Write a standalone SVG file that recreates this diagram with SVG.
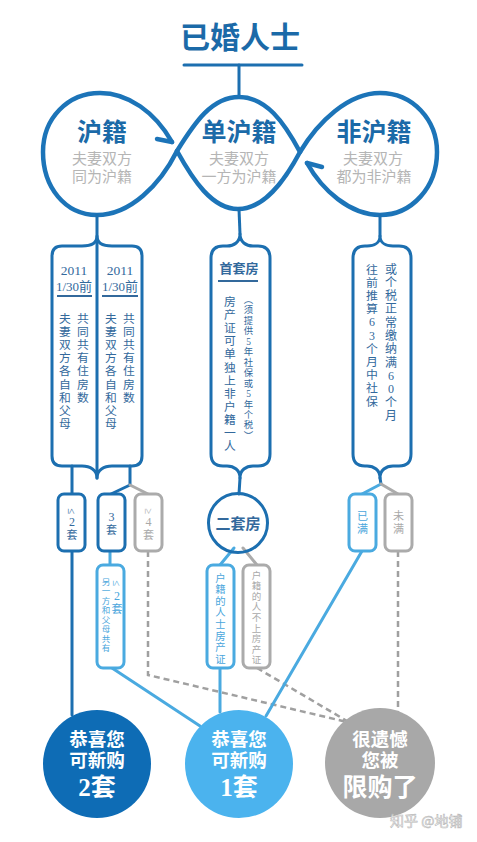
<svg xmlns="http://www.w3.org/2000/svg" width="477" height="842" viewBox="0 0 477 842">
<defs>
<style>
text{font-family:"Liberation Serif","Noto Sans CJK SC",serif;}
.h{fill:#1b6aa8;font-weight:bold;text-anchor:middle;}
.sub{fill:#b5b5b5;font-size:15px;text-anchor:middle;}
.bt{fill:#33699c;text-anchor:middle;}
.lt{fill:#4aa6dc;text-anchor:middle;}
.gt{fill:#a9a9a9;text-anchor:middle;}
.loop{fill:none;stroke:#1c74b8;stroke-width:4.5;stroke-linecap:round;}
.dk{fill:none;stroke:#1c6fb0;stroke-width:3;stroke-linecap:round;stroke-linejoin:round;}
.lb{fill:none;stroke:#4aaae0;stroke-width:3;stroke-linecap:round;stroke-linejoin:round;}
.gr{fill:none;stroke:#ababab;stroke-width:3;stroke-linecap:round;stroke-linejoin:round;}
.dash{fill:none;stroke:#a0a0a0;stroke-width:2.5;stroke-dasharray:6 4;}
.box{fill:#fff;}
.ct{fill:#fff;font-weight:bold;text-anchor:middle;}
</style>
</defs>

<g id="title">
<text class="h" x="240" y="48" font-size="30" style="font-family:'Noto Sans CJK SC',sans-serif">已婚人士</text>
</g>

<g id="connectors">
<line class="dk" x1="184" y1="65" x2="302" y2="65"/>
<line class="dk" x1="239" y1="65" x2="239" y2="97"/>
<path class="loop" d="M172,142 C155,112 128,93 100,93 C68,93 43,118 43,152 C43,187 65,215 97,215 C130,215 160,185 177,151 C195,122 212,97 239,97 C266,97 284,122 300,152"/>
<path class="loop" d="M177,151 C193,180 212,209 238,209 C264,209 284,182 300,152 C318,122 348,93 380,93 C413,93 437,120 437,152 C437,187 412,215 380,215 C350,215 322,190 307,163"/>
<line class="loop" x1="172" y1="142" x2="157" y2="139"/>
<line class="loop" x1="307" y1="163" x2="322" y2="167"/>
<line class="dk" x1="97" y1="215" x2="97" y2="478"/>
<line class="dk" x1="239" y1="209" x2="240" y2="234"/>
<line class="dk" x1="380" y1="215" x2="380" y2="236"/>
<line class="dk" x1="240" y1="478" x2="239" y2="494"/>
<line class="dk" x1="380" y1="478" x2="381" y2="484"/>
<line class="dk" x1="72" y1="466" x2="72" y2="494"/>
<line class="dk" x1="72" y1="551" x2="72" y2="715"/>
<polyline class="dk" points="130,466 130,485 111,494"/>
<line class="gr" x1="130" y1="485" x2="148" y2="494"/>
<line class="lb" x1="110" y1="551" x2="110" y2="565"/>
<line class="lb" x1="112" y1="668" x2="200" y2="726"/>
<polyline class="dash" points="148,551 148,675 347,722"/>
<line class="lb" x1="234" y1="548" x2="220" y2="565"/>
<line class="gr" x1="243" y1="548" x2="257" y2="565"/>
<line class="lb" x1="220" y1="668" x2="220" y2="712"/>
<line class="dash" x1="257" y1="668" x2="347" y2="721"/>
<line class="lb" x1="381" y1="484" x2="362" y2="494"/>
<line class="gr" x1="381" y1="484" x2="398" y2="494"/>
<line class="lb" x1="362" y1="551" x2="266" y2="716"/>
<line class="dash" x1="398" y1="551" x2="398" y2="712"/>
</g>

<g id="loop-labels">
<text class="h" x="102" y="141" font-size="25">沪籍</text>
<text class="sub" x="102" y="164">夫妻双方</text>
<text class="sub" x="102" y="182">同为沪籍</text>
<text class="h" x="239" y="141" font-size="25">单沪籍</text>
<text class="sub" x="239" y="164">夫妻双方</text>
<text class="sub" x="239" y="182">一方为沪籍</text>
<text class="h" x="374" y="141" font-size="25">非沪籍</text>
<text class="sub" x="373" y="164">夫妻双方</text>
<text class="sub" x="374" y="182">都为非沪籍</text>
</g>

<g id="box-hu">
<path class="dk" d="M97,236 C97,244 90,246 82,246 L62,246 Q52,246 52,256 L52,456 Q52,466 62,466 L82,466 C90,466 97,470 97,478 C97,470 104,466 112,466 L132,466 Q142,466 142,456 L142,256 Q142,246 132,246 L112,246 C104,246 97,244 97,236"/>
<text class="bt" x="74" y="275" font-size="13.5">2011</text>
<text class="bt" x="74" y="291" font-size="13">1/30前</text>
<line x1="57" y1="296" x2="92" y2="296" stroke="#33699c" stroke-width="1.8"/>
<text class="bt" x="120" y="275" font-size="13.5">2011</text>
<text class="bt" x="120" y="291" font-size="13">1/30前</text>
<line x1="102" y1="296" x2="138" y2="296" stroke="#33699c" stroke-width="1.8"/>
<text class="bt" font-size="11.8"><tspan x="65" y="323">夫</tspan><tspan x="65" y="336.1">妻</tspan><tspan x="65" y="349.2">双</tspan><tspan x="65" y="362.3">方</tspan><tspan x="65" y="375.4">各</tspan><tspan x="65" y="388.5">自</tspan><tspan x="65" y="401.6">和</tspan><tspan x="65" y="414.7">父</tspan><tspan x="65" y="427.8">母</tspan></text>
<text class="bt" font-size="11.8"><tspan x="83" y="323">共</tspan><tspan x="83" y="336.1">同</tspan><tspan x="83" y="349.2">共</tspan><tspan x="83" y="362.3">有</tspan><tspan x="83" y="375.4">住</tspan><tspan x="83" y="388.5">房</tspan><tspan x="83" y="401.6">数</tspan></text>
<text class="bt" font-size="11.8"><tspan x="111" y="323">夫</tspan><tspan x="111" y="336.1">妻</tspan><tspan x="111" y="349.2">双</tspan><tspan x="111" y="362.3">方</tspan><tspan x="111" y="375.4">各</tspan><tspan x="111" y="388.5">自</tspan><tspan x="111" y="401.6">和</tspan><tspan x="111" y="414.7">父</tspan><tspan x="111" y="427.8">母</tspan></text>
<text class="bt" font-size="11.8"><tspan x="129" y="323">共</tspan><tspan x="129" y="336.1">同</tspan><tspan x="129" y="349.2">共</tspan><tspan x="129" y="362.3">有</tspan><tspan x="129" y="375.4">住</tspan><tspan x="129" y="388.5">房</tspan><tspan x="129" y="401.6">数</tspan></text>
</g>

<g id="box-dan">
<path class="dk" d="M240,234 C240,242 234,246 227,246 L223,246 Q211,246 211,258 L211,454 Q211,466 223,466 L227,466 C234,466 240,470 240,478 C240,470 246,466 253,466 L258,466 Q270,466 270,454 L270,258 Q270,246 258,246 L253,246 C246,246 240,242 240,234"/>
<text class="bt" x="239" y="273" font-size="13" font-weight="bold">首套房</text>
<line x1="218" y1="281" x2="258" y2="281" stroke="#33699c" stroke-width="1.8"/>
<text class="bt" font-size="9.4"><tspan x="248.5" y="303">︵</tspan><tspan x="248.5" y="313.45">须</tspan><tspan x="248.5" y="323.9">提</tspan><tspan x="248.5" y="334.35">供</tspan><tspan x="248.5" y="344.8">5</tspan><tspan x="248.5" y="355.25">年</tspan><tspan x="248.5" y="365.7">社</tspan><tspan x="248.5" y="376.15">保</tspan><tspan x="248.5" y="386.6">或</tspan><tspan x="248.5" y="397.05">5</tspan><tspan x="248.5" y="407.5">年</tspan><tspan x="248.5" y="417.95">个</tspan><tspan x="248.5" y="428.4">税</tspan><tspan x="248.5" y="438.85">︶</tspan></text>
<text class="bt" font-size="11.8"><tspan x="230" y="306">房</tspan><tspan x="230" y="319.1">产</tspan><tspan x="230" y="332.2">证</tspan><tspan x="230" y="345.3">可</tspan><tspan x="230" y="358.4">单</tspan><tspan x="230" y="371.5">独</tspan><tspan x="230" y="384.6">上</tspan><tspan x="230" y="397.7">非</tspan><tspan x="230" y="410.8">户</tspan><tspan x="230" y="423.9">籍</tspan><tspan x="230" y="437">一</tspan><tspan x="230" y="450.1">人</tspan></text>
</g>

<g id="box-fei">
<path class="dk" d="M380,236 C380,243 374,246 367,246 L365,246 Q353,246 353,258 L353,454 Q353,466 365,466 L367,466 C374,466 380,470 380,478 C380,470 386,466 393,466 L399,466 Q411,466 411,454 L411,258 Q411,246 399,246 L393,246 C386,246 380,243 380,236"/>
<text class="bt" font-size="12"><tspan x="391" y="273.5">或</tspan><tspan x="391" y="286.8">个</tspan><tspan x="391" y="300.1">税</tspan><tspan x="391" y="313.4">正</tspan><tspan x="391" y="326.7">常</tspan><tspan x="391" y="340">缴</tspan><tspan x="391" y="353.3">纳</tspan><tspan x="391" y="366.6">满</tspan><tspan x="391" y="379.9">6</tspan><tspan x="391" y="393.2">0</tspan><tspan x="391" y="406.5">个</tspan><tspan x="391" y="419.8">月</tspan></text>
<text class="bt" font-size="11.9"><tspan x="372" y="273.5">往</tspan><tspan x="372" y="286.7">前</tspan><tspan x="372" y="299.9">推</tspan><tspan x="372" y="313.1">算</tspan><tspan x="372" y="326.3">6</tspan><tspan x="372" y="339.5">3</tspan><tspan x="372" y="352.7">个</tspan><tspan x="372" y="365.9">月</tspan><tspan x="372" y="379.1">中</tspan><tspan x="372" y="392.3">社</tspan><tspan x="372" y="405.5">保</tspan></text>
</g>

<g id="le2">
<rect class="dk box" x="58" y="494" width="27" height="57" rx="6"/>
<text class="bt" x="0" y="0" font-size="11" transform="translate(72,511) rotate(90)" dominant-baseline="central">≤</text>
<text class="bt" x="72" y="526" font-size="12">2</text>
<text class="bt" x="72" y="539" font-size="11">套</text>
</g>
<g id="t3">
<rect class="dk box" x="98" y="494" width="27" height="57" rx="6"/>
<text class="bt" x="111.5" y="521" font-size="12">3</text>
<text class="bt" x="111.5" y="534" font-size="11">套</text>
</g>
<g id="ge4">
<rect class="gr box" x="135" y="494" width="27" height="57" rx="6"/>
<text class="gt" x="0" y="0" font-size="11" transform="translate(148.5,511) rotate(90)" dominant-baseline="central">≥</text>
<text class="gt" x="148.5" y="526" font-size="12">4</text>
<text class="gt" x="148.5" y="539" font-size="11">套</text>
</g>
<g id="le2-other">
<rect class="lb box" x="97" y="565" width="27" height="103" rx="6"/>
<text class="lt" x="0" y="0" font-size="11" transform="translate(117,583) rotate(90)" dominant-baseline="central">≤</text>
<text class="lt" x="117" y="599.5" font-size="12">2</text>
<text class="lt" x="117" y="612.5" font-size="11">套</text>
<text class="lt" font-size="8.5"><tspan x="106" y="584.5">另</tspan><tspan x="106" y="594">一</tspan><tspan x="106" y="603.5">方</tspan><tspan x="106" y="613">和</tspan><tspan x="106" y="622.5">父</tspan><tspan x="106" y="632">母</tspan><tspan x="106" y="641.5">共</tspan><tspan x="106" y="651">有</tspan></text>
</g>
<g id="second-house">
<circle class="dk" cx="238" cy="523" r="29.5" fill="#fff"/>
<text class="bt" x="238" y="528.5" font-size="15" font-weight="bold" fill="#1f5f94">二套房</text>
</g>
<g id="hukou-on">
<rect class="lb box" x="207" y="565" width="27" height="103" rx="6"/>
<text class="lt" font-size="10.4"><tspan x="220.5" y="581.5">户</tspan><tspan x="220.5" y="593.1">籍</tspan><tspan x="220.5" y="604.7">的</tspan><tspan x="220.5" y="616.3">人</tspan><tspan x="220.5" y="627.9">士</tspan><tspan x="220.5" y="639.5">房</tspan><tspan x="220.5" y="651.1">产</tspan><tspan x="220.5" y="662.7">证</tspan></text>
</g>
<g id="hukou-off">
<rect class="gr box" x="243" y="565" width="27" height="103" rx="6"/>
<text class="gt" font-size="9.5"><tspan x="256.5" y="578.5">户</tspan><tspan x="256.5" y="589.1">籍</tspan><tspan x="256.5" y="599.7">的</tspan><tspan x="256.5" y="610.3">人</tspan><tspan x="256.5" y="620.9">不</tspan><tspan x="256.5" y="631.5">上</tspan><tspan x="256.5" y="642.1">房</tspan><tspan x="256.5" y="652.7">产</tspan><tspan x="256.5" y="663.3">证</tspan></text>
</g>
<g id="full">
<rect class="lb box" x="349" y="494" width="27" height="57" rx="6"/>
<text class="lt" font-size="11"><tspan x="362.5" y="520">已</tspan><tspan x="362.5" y="533">满</tspan></text>
</g>
<g id="notfull">
<rect class="gr box" x="385" y="494" width="27" height="57" rx="6"/>
<text class="gt" font-size="11"><tspan x="398.5" y="520">未</tspan><tspan x="398.5" y="533">满</tspan></text>
</g>

<g id="result-2">
<circle cx="97" cy="764" r="54" fill="#0e6cb5"/>
<text class="ct" x="97" y="746" font-size="18.5">恭喜您</text>
<text class="ct" x="97" y="767" font-size="18.5">可新购</text>
<text class="ct" x="97" y="796" font-size="25">2套</text>
</g>
<g id="result-1">
<circle cx="239" cy="764" r="54" fill="#4bb3ee"/>
<text class="ct" x="239" y="746" font-size="18.5">恭喜您</text>
<text class="ct" x="239" y="767" font-size="18.5">可新购</text>
<text class="ct" x="239" y="796" font-size="25">1套</text>
</g>
<g id="result-0">
<circle cx="380" cy="763" r="55" fill="#a8a8a8"/>
<text class="ct" x="380" y="746" font-size="18.5">很遗憾</text>
<text class="ct" x="380" y="767" font-size="18.5">您被</text>
<text class="ct" x="380" y="796" font-size="25">限购了</text>
</g>

<g id="watermark">
<text x="390" y="826" font-size="14" fill="#ffffff" stroke="#b8b8b8" stroke-width="0.6" style="font-family:'Noto Sans CJK SC',sans-serif">知乎 @地铺</text>
</g>
</svg>
